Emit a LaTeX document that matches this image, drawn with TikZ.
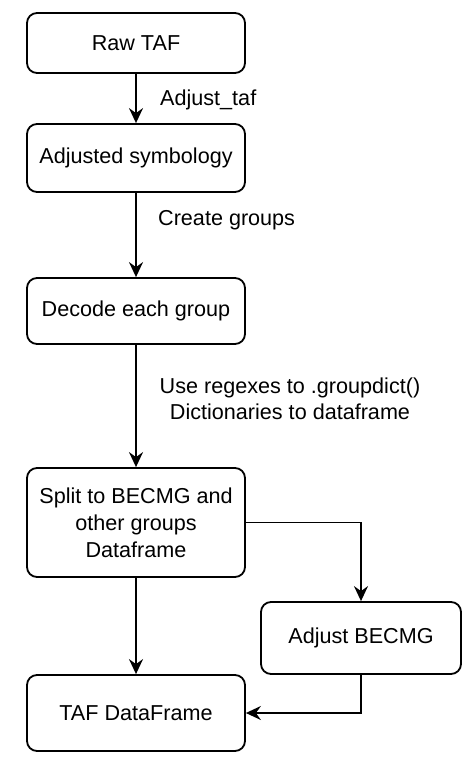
\documentclass[tikz,border=0pt]{standalone}
\usepackage{fontspec}
\setmainfont{Liberation Sans}
\usetikzlibrary{arrows.meta}
\tikzset{
stepbox/.style={draw, line width=1.8pt, rounded corners=10pt, fill=white,
  align=center, inner sep=0pt, font=\fontsize{21.6}{27}\selectfont},
flow/.style={line width=1.8pt, -{Stealth[length=15pt, width=14pt, inset=5pt]}},
note/.style={align=center, inner sep=0pt, font=\fontsize{21.6}{26}\selectfont}
}
\begin{document}
\begin{tikzpicture}[x=1pt, y=-1pt]
\useasboundingbox (0,0) rectangle (473,777);
% boxes
\node[stepbox, minimum width=218pt, minimum height=60pt] (raw) at (136,43) {Raw TAF};
\node[stepbox, minimum width=218pt, minimum height=68pt] (adj) at (136,158) {Adjusted symbology};
\node[stepbox, minimum width=218pt, minimum height=66pt] (decode) at (136,311) {Decode each group};
\node[stepbox, minimum width=218pt, minimum height=109pt] (split) at (136,522.5) {Split to BECMG and\\other groups\\Dataframe};
\node[stepbox, minimum width=200pt, minimum height=72pt] (becmg) at (361,638) {Adjust BECMG};
\node[stepbox, minimum width=218pt, minimum height=76pt] (taf) at (136,713) {TAF DataFrame};
% labels
\node[note, anchor=west] (lbladj) at (160,100) {Adjust\_taf};
\node[note, anchor=west] (lblgrp) at (158,220) {Create groups};
\node[note] (lblrex) at (290,399) {Use regexes to .groupdict()\\Dictionaries to dataframe};
% arrows
\draw[flow] (raw) -- (adj);
\draw[flow] (adj) -- (decode);
\draw[flow] (decode) -- (split);
\draw[flow] (split) -- (taf);
\draw[flow] (split.east) -| (becmg.north);
\draw[flow] (becmg.south) |- (taf.east);
\end{tikzpicture}
\end{document}
